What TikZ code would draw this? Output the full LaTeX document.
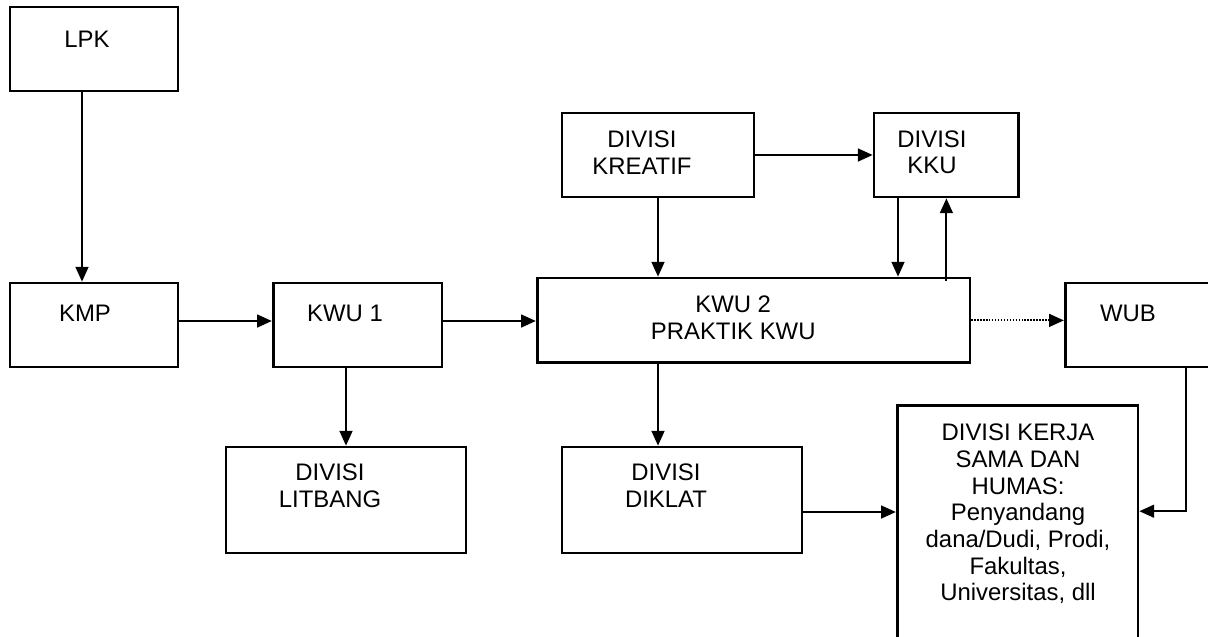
\documentclass[tikz,border=0pt]{standalone}
\usepackage{fontspec}
\setmainfont{Liberation Sans}
\usepackage{tikz}
\usetikzlibrary{arrows.meta, positioning, calc}

\begin{document}
\begin{tikzpicture}[
    box/.style={draw, line width=1.9pt, inner sep=0pt},
    txt/.style={font=\fontsize{17}{19}\selectfont, align=center, inner sep=0pt},
    arr/.style={line width=1.5pt, -{Triangle[length=0.37cm, width=0.32cm]}},
    dotline/.style={arr, dash pattern=on 1pt off 1.1pt},
]
    \clip (0, 0) rectangle (30.2, -15.9);

    \node[box, minimum width=4.2cm, minimum height=2.1cm] (lpk) at (2.35, -1.225) {};
    \node[box, minimum width=4.2cm, minimum height=2.1cm] (kmp) at (2.35, -8.125) {};
    \node[box, minimum width=4.22cm, minimum height=2.1cm] (kwu1) at (8.94, -8.125) {};
    \node[box, minimum width=6cm, minimum height=2.65cm] (litbang) at (8.65, -12.5) {};
    \node[box, minimum width=4.8cm, minimum height=2.1cm] (kreatif) at (16.45, -3.875) {};
    \node[box, minimum width=3.62cm, minimum height=2.1cm] (kku) at (23.66, -3.875) {};
    \node[box, minimum width=10.82cm, minimum height=2.12cm] (kwu2) at (18.84, -8.01) {};
    \node[box, minimum width=4.12cm, minimum height=2.1cm] (wub) at (28.69, -8.125) {};
    \node[box, minimum width=6cm, minimum height=2.65cm] (diklat) at (17.05, -12.5) {};
    \node[box, minimum width=6.02cm, minimum height=6.12cm] (kerja) at (25.44, -13.19) {};

    \node[txt] (lpk-t) at (2.175, -0.975) {LPK};
    \node[txt] (kmp-t) at (2.125, -7.825) {KMP};
    \node[txt] (kwu1-t) at (8.625, -7.825) {KWU 1};
    \node[txt] (litbang-t) at (8.25, -12.15) {DIVISI\\LITBANG};
    \node[txt] (kreatif-t) at (16.05, -3.81) {DIVISI\\KREATIF};
    \node[txt] (kku-t) at (23.3, -3.81) {DIVISI\\KKU};
    \node[txt] (kwu2-t) at (18.33, -7.94) {KWU 2\\PRAKTIK KWU};
    \node[txt] (wub-t) at (28.2, -7.825) {WUB};
    \node[txt] (diklat-t) at (16.65, -12.15) {DIVISI\\DIKLAT};
    \node[txt] (kerja-t) at (25.45, -12.85) {DIVISI KERJA\\SAMA DAN\\HUMAS:\\Penyandang\\dana/Dudi, Prodi,\\Fakultas,\\Universitas, dll};

    \draw[arr] ([xshift=-0.3cm]lpk.south) -- ([xshift=-0.3cm]kmp.north);
    \draw[arr] ([yshift=0.1cm]kmp.east) -- ([yshift=0.1cm]kwu1.west);
    \draw[arr] ([yshift=0.1cm]kwu1.east) -- ([yshift=0.1cm]kwu1.east -| kwu2.west);
    \draw[arr] (litbang.north |- kwu1.south) -- (litbang.north);
    \draw[arr] (kreatif.south) -- (kreatif.south |- kwu2.north);
    \draw[arr] (kreatif.east) -- (kku.west);
    \draw[arr] ([xshift=-1.21cm]kku.south) -- ([xshift=-1.21cm]kku.south |- kwu2.north);
    \draw[arr] ([yshift=-0.1cm]kku.south |- kwu2.north) -- (kku.south);
    \draw[dotline] (kwu2.east) -- (kwu2.east -| wub.west);
    \draw[arr] ([xshift=-0.6cm]diklat.north |- kwu2.south) -- ([xshift=-0.6cm]diklat.north);
    \draw[arr] ([yshift=-0.3cm]diklat.east) -- ([yshift=-0.3cm]diklat.east -| kerja.west);
    \draw[arr] ([xshift=0.96cm]wub.south) |- ([yshift=0.41cm]kerja.east);
\end{tikzpicture}
\end{document}
